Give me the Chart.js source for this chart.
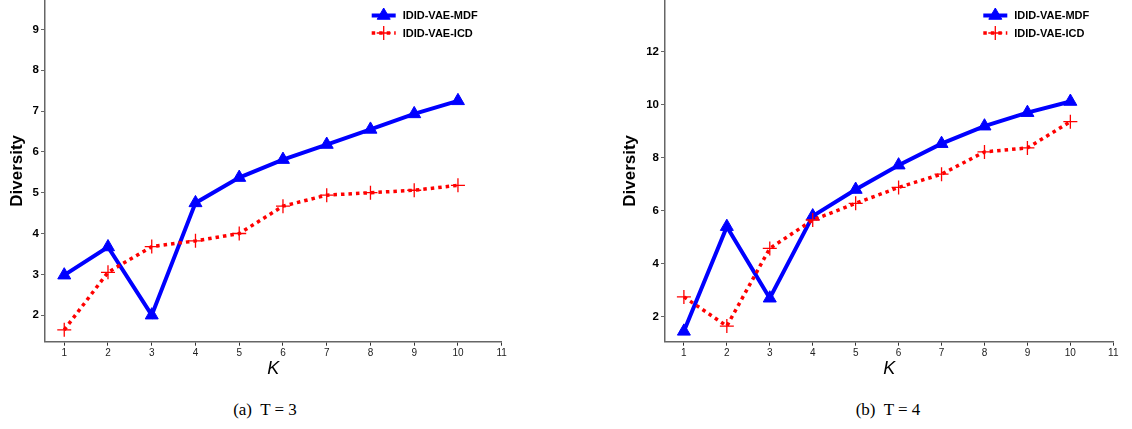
<!DOCTYPE html>
<html lang="en">
<head>
	<meta charset="UTF-8">
	<title>Diversity vs K</title>
	<style>
		body { margin: 0; background: #fff; width: 1132px; height: 429px; position: relative; overflow: hidden; }
		canvas { position: absolute; top: 0; }
		.caption { position: absolute; top: 400px; font-family: "Liberation Serif", "DejaVu Serif", serif; font-size: 17px; color: #000; transform: translateX(-50%); white-space: nowrap; }
	</style>
</head>
<body>
	<canvas id="chartT3" width="530" height="380" style="left:0px"></canvas>
	<canvas id="chartT4" width="532" height="380" style="left:600px"></canvas>
	<div class="caption" style="left:265px">(a)&nbsp; T = 3</div>
	<div class="caption" style="left:888px">(b)&nbsp; T = 4</div>

	<script src="https://cdn.jsdelivr.net/npm/chart.js@4/dist/chart.umd.min.js"></script>
	<script>
		const kValues = [1, 2, 3, 4, 5, 6, 7, 8, 9, 10];
		const xTicks = [1, 2, 3, 4, 5, 6, 7, 8, 9, 10, 11];

		// T = 3
		const mdfT3 = [2.98, 3.67, 2.0, 4.75, 5.37, 5.81, 6.18, 6.55, 6.93, 7.25];
		const icdT3 = [1.64, 3.05, 3.68, 3.82, 4.0, 4.67, 4.94, 5.0, 5.06, 5.18];
		const yTicksT3 = [2, 3, 4, 5, 6, 7, 8, 9];

		// T = 4
		const mdfT4 = [1.45, 5.4, 2.7, 5.8, 6.8, 7.72, 8.53, 9.19, 9.7, 10.12];
		const icdT4 = [2.75, 1.65, 4.58, 5.65, 6.28, 6.88, 7.38, 8.22, 8.37, 9.36];
		const yTicksT4 = [2, 4, 6, 8, 10, 12];

		const BLUE = "#0000ff";
		const RED = "#ff0000";
		const AXIS = "#666666";

		const legendPlugin = {
			id: "lineLegend",
			afterDraw(chart) {
				const ctx = chart.ctx;
				const right = chart.chartArea.right;
				const rows = [
					{ ds: chart.data.datasets[1], y: 15.5 },
					{ ds: chart.data.datasets[0], y: 33 },
				];
				ctx.save();
				rows.forEach(row => {
					const ds = row.ds;
					const x0 = right - 130, x1 = right - 106, xm = (x0 + x1) / 2;
					ctx.strokeStyle = ds.borderColor;
					ctx.lineWidth = ds.borderWidth;
					ctx.setLineDash(ds.borderDash || []);
					ctx.beginPath();
					ctx.moveTo(x0, row.y);
					ctx.lineTo(x1, row.y);
					ctx.stroke();
					ctx.setLineDash([]);
					ctx.fillStyle = ds.pointBackgroundColor || ds.borderColor;
					ctx.strokeStyle = ds.pointBorderColor || ds.borderColor;
					ctx.lineWidth = ds.pointBorderWidth;
					Chart.helpers.drawPoint(ctx, {
						pointStyle: ds.pointStyle,
						radius: ds.pointRadius,
						rotation: 0,
						borderWidth: ds.pointBorderWidth
					}, xm, row.y);
					ctx.fillStyle = "#000";
					ctx.font = "bold 11px 'Liberation Sans', Arial, sans-serif";
					ctx.textBaseline = "middle";
					ctx.textAlign = "left";
					ctx.fillText(ds.label, right - 99, row.y + 0.5);
				});
				ctx.restore();
			}
		};

		function makeChart(id, mdf, icd, yMin, yMax, yTicks, yWidth, titlePad, rightPad) {
			const ctx = document.getElementById(id).getContext("2d");
			return new Chart(ctx, {
				type: "line",
				data: {
					datasets: [
						{
							label: "IDID-VAE-ICD",
							data: kValues.map((k, i) => ({ x: k, y: icd[i] })),
							borderColor: RED,
							backgroundColor: RED,
							borderWidth: 3.5,
							borderDash: [3.5, 4],
							pointStyle: "cross",
							pointRadius: 7,
							pointBorderWidth: 1.3,
							pointBorderColor: RED,
							fill: false,
							tension: 0,
							clip: false
						},
						{
							label: "IDID-VAE-MDF",
							data: kValues.map((k, i) => ({ x: k, y: mdf[i] })),
							borderColor: BLUE,
							backgroundColor: BLUE,
							borderWidth: 4,
							pointStyle: "triangle",
							pointRadius: 7.5,
							pointBorderWidth: 1,
							pointBackgroundColor: BLUE,
							pointBorderColor: BLUE,
							fill: false,
							tension: 0,
							clip: false
						}
					]
				},
				options: {
					responsive: false,
					animation: false,
					devicePixelRatio: 1,
					layout: { autoPadding: false, padding: { top: 0, left: 0, right: rightPad, bottom: 0 } },
					plugins: {
						legend: { display: false },
						tooltip: { enabled: false }
					},
					scales: {
						x: {
							type: "linear",
							min: 0.56,
							max: 11,
							afterBuildTicks: s => { s.ticks = xTicks.map(v => ({ value: v })); },
							afterFit: s => { s.height = 38.3; s.paddingLeft = 0; s.paddingRight = 0; },
							grid: { drawOnChartArea: false, drawTicks: true, tickLength: 4, tickColor: "#333", tickWidth: 1 },
							border: { display: true, color: AXIS, width: 1.5 },
							ticks: {
								color: "#222",
								padding: 2,
								maxRotation: 0,
								autoSkip: false,
								font: { family: "'Liberation Sans Narrow', 'Liberation Sans', Arial, sans-serif", size: 10 }
							},
							title: {
								display: true,
								text: "K",
								color: "#000",
								padding: { top: 0, bottom: 0 },
								font: { family: "'Liberation Sans', Arial, sans-serif", size: 18, style: "italic" }
							}
						},
						y: {
							type: "linear",
							min: yMin,
							max: yMax,
							afterBuildTicks: s => { s.ticks = yTicks.map(v => ({ value: v })); },
							afterFit: s => { s.width = yWidth; s.paddingTop = 0; s.paddingBottom = 0; },
							grid: { drawOnChartArea: false, drawTicks: true, tickLength: 4, tickColor: AXIS, tickWidth: 1 },
							border: { display: true, color: AXIS, width: 1.5 },
							ticks: {
								color: "#000",
								padding: 2,
								font: { family: "'Liberation Sans', Arial, sans-serif", size: 11.5, weight: "bold" }
							},
							title: {
								display: true,
								text: "Diversity",
								color: "#000",
								padding: { top: titlePad, bottom: 0 },
								font: { family: "'Liberation Sans', Arial, sans-serif", size: 17, weight: "bold" }
							}
						}
					}
				},
				plugins: [legendPlugin]
			});
		}

		makeChart("chartT3", mdfT3, icdT3, 1.35, 9.72, yTicksT3, 45, 7, 530 - 501.7);
		makeChart("chartT4", mdfT4, icdT4, 1.06, 13.95, yTicksT4, 65, 20, 532 - 513.3);
	</script>
</body>
</html>
